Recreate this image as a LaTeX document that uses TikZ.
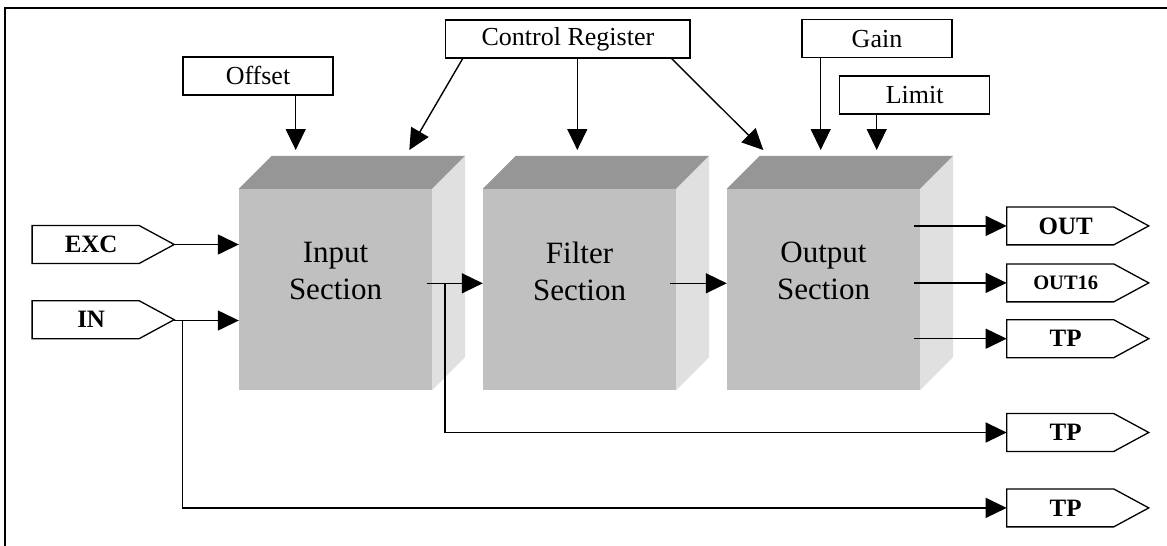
\documentclass[tikz,border=0pt]{standalone}
\usepackage{fontspec}
\setmainfont{Liberation Serif}
\usetikzlibrary{arrows.meta,calc}
\definecolor{facefront}{HTML}{C0C0C0}
\definecolor{facetop}{HTML}{969696}
\definecolor{faceside}{HTML}{E0E0E0}
% top and side faces of a block, drawn behind its front face node
\newcommand\cubesides[1]{%
  \fill[facetop] (#1.north west) -- ++(33,-33) -- ($(#1.north east)+(33,-33)$) -- (#1.north east) -- cycle;
  \fill[faceside] (#1.north east) -- ++(33,-33) -- ($(#1.south east)+(33,-33)$) -- (#1.south east) -- cycle;}
\begin{document}
\begin{tikzpicture}[x=1pt,y=-1pt,
  arr/.style={line width=1.4pt,-{Triangle[length=21pt,width=20pt]}},
  regbox/.style={draw,line width=1.3pt,minimum width=150pt,minimum height=38pt,inner sep=0pt,
    font=\fontsize{26}{30}\selectfont},
  tag/.style={minimum width=106.7pt,minimum height=37.5pt,inner sep=0pt,
    font=\fontsize{25}{30}\selectfont\bfseries,execute at begin node={\hspace*{11pt}}},
  tagline/.style={draw,line width=1.3pt},
  front/.style={fill=facefront,minimum width=193pt,minimum height=201pt,inner sep=0pt},
  blocktext/.style={align=center,font=\fontsize{31}{37}\selectfont},
]
\useasboundingbox (0,0) rectangle (1167,546);

% frame
\draw[line width=2.5pt] (5,560) -- (5,8) -- (1180,8);

% register boxes
\node[regbox] (offset) at (258,75.9) {Offset};
\node[regbox,minimum width=244.3pt] (ctrl) at (567.9,38.9) {Control Register};
\node[regbox] (gain) at (877,38.7) {Gain};
\node[regbox] (limit) at (914.7,95) {Limit};

% processing blocks
\node[front] (inpsec) at (335.5,289.5) {};
\node[front] (filsec) at (579.5,289.5) {};
\node[front] (outsec) at (823.5,289.5) {};
\cubesides{inpsec}
\cubesides{filsec}
\cubesides{outsec}
\node[blocktext] (inptext) at (335.5,271.3) {Input\\Section};
\node[blocktext] (filtext) at (579.5,271.3) {Filter\\Section};
\node[blocktext] (outtext) at (823.5,271.3) {Output\\Section};

% input and output tags
\node[tag] (tagexc) at (85.65,244.5) {EXC};
\node[tag] (tagin) at (85.65,319.7) {IN};
\node[tag] (tagout) at (1060.2,225.9) {OUT};
\node[tag,font=\fontsize{20.5}{24}\selectfont\bfseries] (tagout16) at (1060.2,282.9) {OUT16};
\node[tag] (tagtpa) at (1060.2,338.7) {TP};
\node[tag] (tagtpb) at (1060.2,432.5) {TP};
\node[tag] (tagtpc) at (1060.2,507.9) {TP};
\foreach \n in {tagexc,tagin,tagout,tagout16,tagtpa,tagtpb,tagtpc}
  \draw[tagline] (\n.north west) -- (\n.north east) -- ($(\n.east)+(35,0)$) -- (\n.south east) -- (\n.south west) -- cycle;
\coordinate (excTip) at ($(tagexc.east)+(35,0)$);
\coordinate (inTip) at ($(tagin.east)+(35,0)$);

% control inputs on the block tops
\coordinate (inpTopA) at (295.7,150);
\coordinate (inpTopB) at (409.3,150);
\coordinate (filTop) at (577.3,150);
\coordinate (outTopA) at (763.3,150);
\coordinate (outTopB) at (820.7,150);
\coordinate (outTopC) at (876.7,150);
\draw[arr] (offset.south -| inpTopA) -- (inpTopA);
\draw[arr] ($(ctrl.south west)+(17.6,0)$) -- (inpTopB);
\draw[arr] (ctrl.south -| filTop) -- (filTop);
\draw[arr] ($(ctrl.south east)+(-19,0)$) -- (outTopA);
\draw[arr] (gain.south -| outTopB) -- (outTopB);
\draw[arr] (limit.south -| outTopC) -- (outTopC);

% signal flow
\coordinate (inSplit) at (182.7,320.5);
\draw[arr] (excTip) -- (excTip -| inpsec.west);
\draw[arr] (inTip |- inSplit) -- (inSplit -| inpsec.west);
\draw[arr] (inSplit) |- (tagtpc.west);

\coordinate (ifStart) at (426.7,283.3);
\coordinate (ifSplit) at (445,283.3);
\coordinate (foStart) at (670,283.3);
\draw[arr] (ifStart) -- (ifStart -| filsec.west);
\draw[arr] (ifSplit) |- (tagtpb.west);
\draw[arr] (foStart) -- (foStart -| outsec.west);

\coordinate (outStart) at (914,0);
\draw[arr] (tagout.west -| outStart) -- (tagout.west);
\draw[arr] (tagout16.west -| outStart) -- (tagout16.west);
\draw[arr] (tagtpa.west -| outStart) -- (tagtpa.west);
\end{tikzpicture}
\end{document}
